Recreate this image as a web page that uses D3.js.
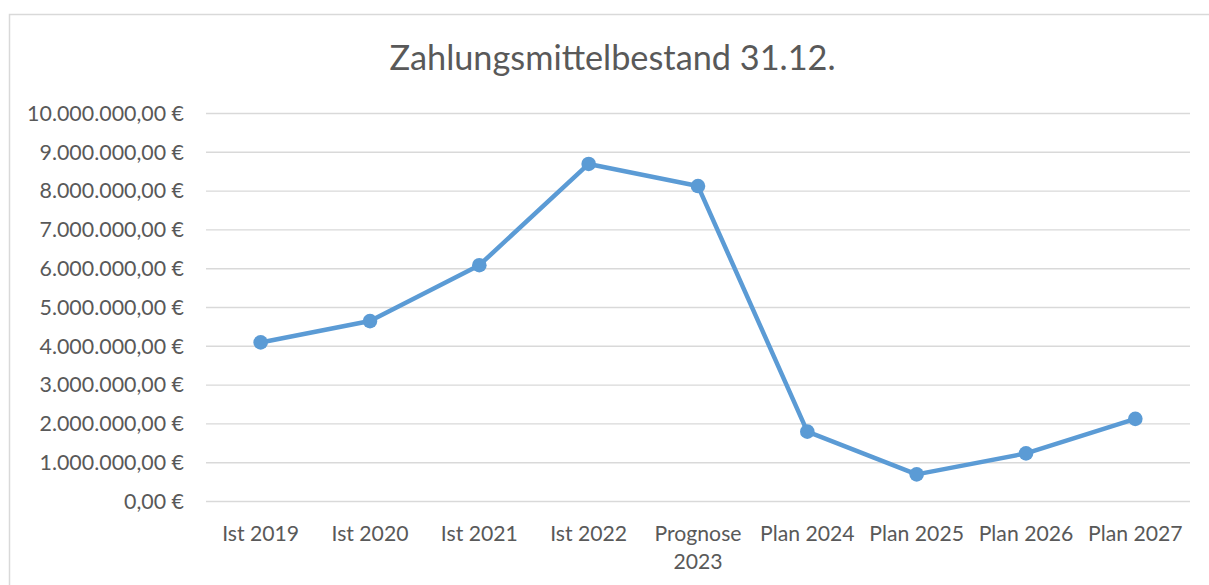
<!DOCTYPE html>
<html lang="de">
<head>
<meta charset="utf-8">
<title>Zahlungsmittelbestand 31.12.</title>
<script src="https://d3js.org/d3.v7.min.js"></script>
<style>
  body { margin: 0; background: #fff; font-family: Lato, 'Open Sans', sans-serif; }
  .tick text { fill: #595959; }
</style>
</head>
<body>
<div id="chart"></div>
<script>
// data
var categories = ["Ist 2019", "Ist 2020", "Ist 2021", "Ist 2022", "Prognose 2023",
                  "Plan 2024", "Plan 2025", "Plan 2026", "Plan 2027"];
var values = [4100000, 4650000, 6090000, 8700000, 8130000,
              1800000, 700000, 1240000, 2130000];
var yTicks = [0, 1000000, 2000000, 3000000, 4000000, 5000000,
              6000000, 7000000, 8000000, 9000000, 10000000];

var W = 1209, H = 585;
var margin = {top: 113.5, right: 19, bottom: 83.5, left: 206};
var width = W - margin.left - margin.right,
    height = H - margin.top - margin.bottom;

var svg = d3.select("#chart").append("svg")
    .attr("width", W)
    .attr("height", H);

// chart area border (runs off the right and bottom edges)
svg.append("rect")
    .attr("x", 9.5).attr("y", 14.5)
    .attr("width", W + 20).attr("height", H + 20)
    .attr("fill", "none")
    .attr("stroke", "#d9d9d9")
    .attr("stroke-width", 1.5);

svg.append("text")
    .attr("x", 612.5)
    .attr("y", 70)
    .attr("text-anchor", "middle")
    .style("font-size", "34.3px")
    .style("fill", "#595959")
    .text("Zahlungsmittelbestand 31.12.");

var g = svg.append("g")
    .attr("transform", "translate(" + margin.left + "," + margin.top + ")");

var x = d3.scaleBand()
    .domain(categories)
    .range([0, width])
    .padding(0);

var y = d3.scaleLinear()
    .domain([0, 10000000])
    .range([height, 0]);

var fmt = function(d) {
  var s = d3.format(",.2f")(d);
  // German notation: 1.000.000,00
  s = s.replace(/,/g, "#").replace(/\./g, ",").replace(/#/g, ".");
  return s + " \u20ac";
};

// gridlines
g.append("g")
  .selectAll("line")
  .data(yTicks)
  .enter().append("line")
    .attr("x1", 0).attr("x2", width)
    .attr("y1", function(d) { return y(d); })
    .attr("y2", function(d) { return y(d); })
    .attr("stroke", "#d9d9d9")
    .attr("stroke-width", 1.4);

// y axis labels
var yAxis = g.append("g")
    .call(d3.axisLeft(y).tickValues(yTicks).tickFormat(fmt).tickSize(0).tickPadding(22));
yAxis.select(".domain").remove();
yAxis.selectAll("text")
    .style("font-size", "21.4px")
    .style("font-family", "Lato, 'Open Sans', sans-serif");

// x axis labels
var xAxis = g.append("g")
    .attr("transform", "translate(0," + height + ")")
    .call(d3.axisBottom(x).tickSize(0).tickPadding(24));
xAxis.select(".domain").remove();
xAxis.selectAll("text")
    .style("font-size", "21.2px")
    .style("font-family", "Lato, 'Open Sans', sans-serif")
    .each(function(d) {
      var t = d3.select(this);
      if (d.indexOf("Prognose") === 0) {
        var parts = d.split(" ");
        t.text(null);
        t.append("tspan").attr("x", 0).attr("dy", "0.71em").text(parts[0]);
        t.append("tspan").attr("x", 0).attr("dy", "1.35em").text(parts[1]);
        t.attr("dy", null);
      }
    });

var cx = function(d, i) { return x(categories[i]) + x.bandwidth() / 2; };

g.append("path")
    .datum(values)
    .attr("fill", "none")
    .attr("stroke", "#5b9bd5")
    .attr("stroke-width", 4.5)
    .attr("stroke-linejoin", "round")
    .attr("d", d3.line()
      .x(cx)
      .y(function(d) { return y(d); }));

g.selectAll("circle")
  .data(values)
  .enter().append("circle")
    .attr("cx", cx)
    .attr("cy", function(d) { return y(d); })
    .attr("r", 7.3)
    .attr("fill", "#5b9bd5");
</script>
</body>
</html>
